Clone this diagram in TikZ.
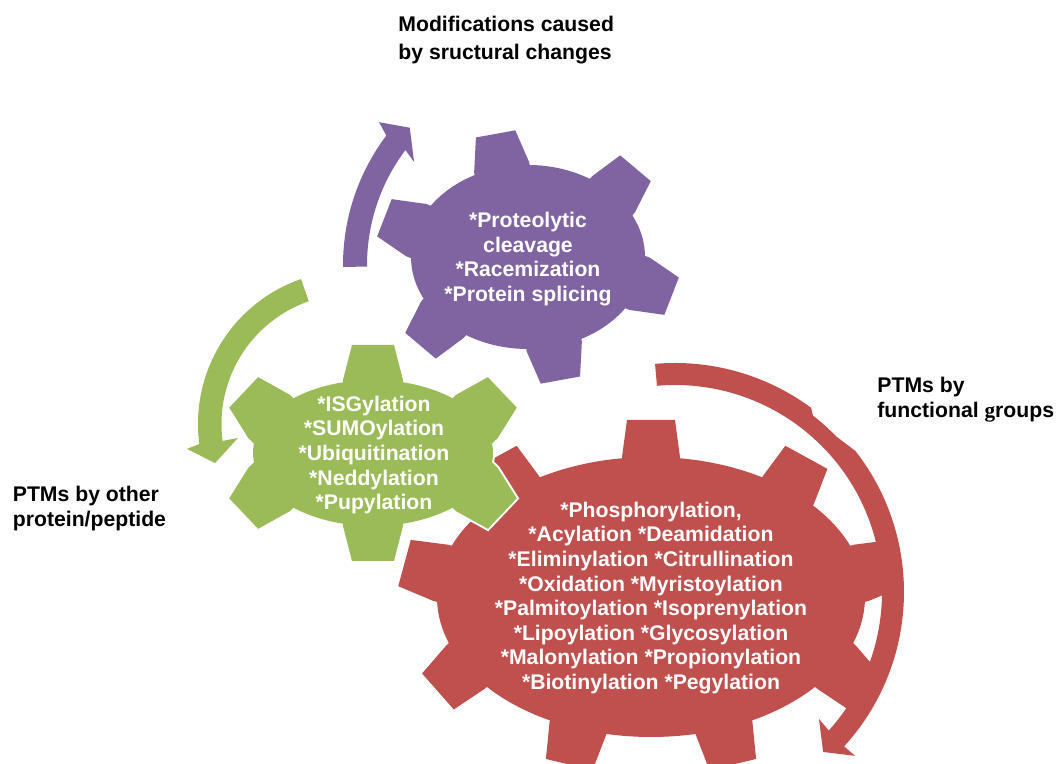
\documentclass[tikz,border=0pt]{standalone}
\usepackage{fontspec}
\setmainfont{Liberation Sans}
\newfontfamily\serifg{Liberation Serif}
\usetikzlibrary{positioning}

\definecolor{gearpurple}{HTML}{8064A2}
\definecolor{geargreen}{HTML}{9BBB59}
\definecolor{gearred}{HTML}{C0504D}

% one pass over a gear: rx, ry, tooth angles, base half width, top half width, tooth height, path style
\newcommand{\gearpass}[7]{%
  \foreach \t in {#3}{%
    \pgfmathsetmacro{\ga}{atan2(#1*sin(\t), #2*cos(\t))}%
    \path[#7, shift={({#1*cos(\t)},{#2*sin(\t)})}, rotate=\ga]
      (-18,-#4) -- (0,-#4) -- (#6,-#5) -- (#6,#5) -- (0,#4) -- (-18,#4) -- cycle;
  }%
  \path[#7] (0,0) ellipse [x radius=#1, y radius=#2];
}
% white rim first, then the colour
\newcommand{\gear}[7]{%
  \gearpass{#1}{#2}{#3}{#4}{#5}{#6}{draw=white, line width=2pt}
  \gearpass{#1}{#2}{#3}{#4}{#5}{#6}{fill=#7}
}

\begin{document}
\begin{tikzpicture}[x=0.5pt, y=0.5pt,
    geartext/.style={text=white, font=\bfseries\fontsize{10.6}{12.3}\selectfont, align=center, inner sep=0},
    sidelabel/.style={font=\bfseries\fontsize{10.6}{12.5}\selectfont, align=left, inner sep=0, anchor=base west}]

    \useasboundingbox (0,0) rectangle (1056,764);
    \clip (0,0) rectangle (1056,764);

    % --- red gear + arrow ---
    \begin{scope}[shift={(651,167)}]
        \gear{214}{140}{90,50,10,-30,-70,-110,-150,170,130}{29}{24}{37}{gearred}
    \end{scope}
    \fill[gearred, shift={(675,172)}]
        (95:229) arc[start angle=95, end angle=53.5, radius=229]
        -- (52:224) arc[start angle=52, end angle=44, radius=224]
        -- (38:229) arc[start angle=38, end angle=-42.4, radius=229]
        -- (-42.3:243.5) -- (-47.2:218) -- (-41.4:192) -- (-42:207)
        arc[start angle=-42, end angle=95, radius=207] -- cycle;

    % --- green gear + arrow ---
    \begin{scope}[shift={(373,311)}]
        \gear{120}{73}{90,30,-30,-90,-150,150}{30}{21}{35}{geargreen}
    \end{scope}
    \fill[geargreen, shift={(351.5,340)}]
        (109.2:153.5) arc[start angle=109.2, end angle=187.5, radius=153.5]
        -- (188.6:166.4) -- (196:142) -- (187:114.4) -- (187.5:130)
        arc[start angle=187.5, end angle=109.2, radius=130] -- cycle;

    % --- purple gear + arrow ---
    \begin{scope}[shift={(528,507)}]
        \gear{117}{92}{103,43,-17,-77,-137,163}{28}{20}{34}{gearpurple}
    \end{scope}
    \fill[gearpurple, shift={(558,499)}]
        (180.5:215) arc[start angle=180.5, end angle=143, radius=215]
        -- (141.4:229) -- (137.2:202) -- (144.4:177) -- (143:191)
        arc[start angle=143, end angle=180.5, radius=191] -- cycle;

    % gear texts
    \node[geartext] (redtxt) at (651,166) {*Phosphorylation,\\*Acylation *Deamidation\\*Eliminylation *Citrullination\\*Oxidation *Myristoylation\\*Palmitoylation *Isoprenylation\\*Lipoylation *Glycosylation\\*Malonylation *Propionylation\\*Biotinylation *Pegylation};
    \node[geartext] (greentxt) at (374,309) {*ISGylation\\*SUMOylation\\*Ubiquitination\\*Neddylation\\*Pupylation};
    \node[geartext] (purpletxt) at (528,505) {*Proteolytic\\cleavage\\*Racemization\\*Protein splicing};

    % side labels (anchored at the last line)
    \node[sidelabel, font=\bfseries\fontsize{10.6}{13.75}\selectfont] (structlabel) at (398,704.5) {Modifications caused\\by sructural changes};
    \node[sidelabel] (funclabel) at (877,346) {PTMs by\\functional {\serifg g}roups};
    \node[sidelabel] (peptlabel) at (12.5,237) {PTMs by other\\protein/peptide};

\end{tikzpicture}
\end{document}
